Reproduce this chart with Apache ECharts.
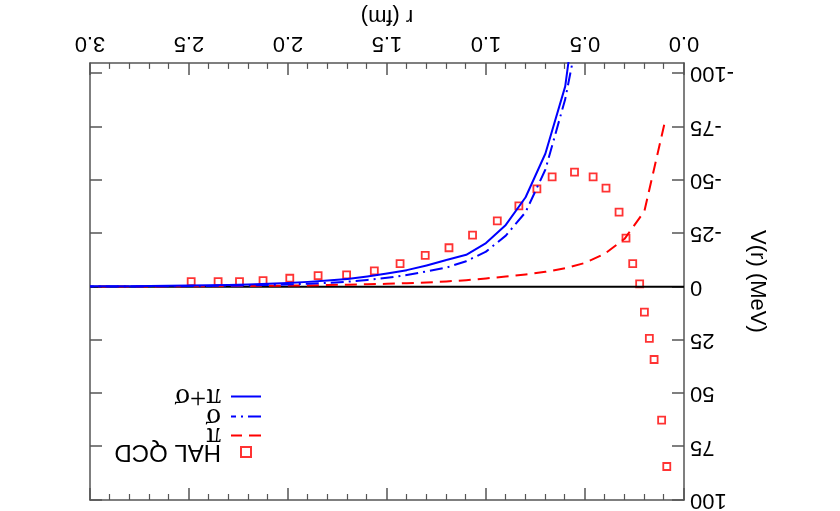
<!DOCTYPE html>
<html>
<head>
<meta charset="utf-8">
<script src="https://cdn.jsdelivr.net/npm/echarts@6/dist/echarts.min.js"></script>
<style>
  html, body { margin: 0; padding: 0; background: #fff; }
  /* the reference figure is printed upside down, so the whole chart is turned */
  #main { width: 840px; height: 511px; transform: rotate(180deg); }
</style>
</head>
<body>
<div id="main"></div>
<script>
// HAL QCD lattice points, r (fm) and V (MeV)
var halR = [0.087, 0.113, 0.151, 0.175, 0.200, 0.224, 0.259, 0.293, 0.328, 0.394, 0.459, 0.553, 0.666, 0.743,
            0.834, 0.943, 1.068, 1.187, 1.307, 1.434, 1.564, 1.704, 1.848, 1.991, 2.126, 2.245, 2.353, 2.489];
var halV = [84.3, 62.5, 34.1, 24.2, 11.9, -1.4, -10.9, -22.8, -35.0, -46.3, -51.5, -53.8, -51.5, -45.9,
            -37.9, -30.9, -24.2, -18.3, -14.7, -10.9, -7.5, -5.6, -5.2, -4.0, -2.9, -2.4, -2.4, -2.4];

// pi exchange curve
var piR = [0.1, 0.2, 0.3, 0.4, 0.5, 0.6, 0.7, 0.8, 0.9, 1.0, 1.1, 1.2, 1.3, 1.4, 1.5,
           1.6, 1.7, 1.8, 1.9, 2.0, 2.1, 2.2, 2.3, 2.4, 2.5, 2.6, 2.7, 2.8, 2.9, 3.0];
var piV = [-76, -35.5, -22.5, -15.5, -11.2, -8.7, -7.0, -5.8, -4.8, -3.9, -3.1, -2.5, -2.0, -1.7, -1.4,
           -1.2, -1.0, -0.8, -0.65, -0.55, -0.45, -0.38, -0.32, -0.27, -0.23, -0.2, -0.17, -0.14, -0.12, -0.1];

// sigma and pi+sigma curves
var sgR = [0.5, 0.6, 0.7, 0.8, 0.9, 1.0, 1.1, 1.2, 1.3, 1.4, 1.5, 1.6, 1.7,
           1.8, 1.9, 2.0, 2.1, 2.2, 2.3, 2.4, 2.5, 2.6, 2.7, 2.8, 2.9, 3.0];
var sgV = [-135, -88, -55, -35, -24, -16.5, -12, -9, -7.2, -5.5, -4.2, -3.2, -2.4,
           -1.8, -1.4, -1.1, -0.85, -0.65, -0.5, -0.4, -0.32, -0.25, -0.2, -0.15, -0.12, -0.1];
var sumV = [-163, -94, -62.5, -42, -29, -20.5, -15, -12.6, -10, -7.8, -6.2, -4.8, -3.7,
            -2.9, -2.3, -1.8, -1.4, -1.1, -0.85, -0.7, -0.55, -0.45, -0.37, -0.3, -0.25, -0.2];

var yTicks = [-100, -75, -50, -25, 0, 25, 50, 75, 100];
var legendNames = ['HAL QCD', 'π', 'σ', 'π+σ'];

function pairs(xs, ys) {
  return xs.map(function (x, i) { return [x, ys[i]]; });
}

var frame = '#555';
var sans = 'Liberation Sans';
var serif = 'Liberation Serif';

var chart = echarts.init(document.getElementById('main'));

var xBase = {
  type: 'value', min: 0, max: 3, interval: 0.5,
  axisLine: { show: true, onZero: false, lineStyle: { color: frame, width: 1.5 } },
  axisTick: { inside: true, length: 12, lineStyle: { color: frame, width: 1.5 } },
  minorTick: { show: true, splitNumber: 5, length: 6, lineStyle: { color: frame, width: 1.2 } },
  splitLine: { show: false }
};
var yBase = {
  type: 'value', min: -105, max: 100,
  axisLine: { show: true, onZero: false, lineStyle: { color: frame, width: 1.5 } },
  axisTick: { inside: true, length: 12, customValues: yTicks, lineStyle: { color: frame, width: 1.5 } },
  splitLine: { show: false }
};

// one legend per entry so the rows can be placed like the original
var legendTops = [46, 61, 80, 100];
var legends = legendNames.map(function (name, i) {
  if (i === 0) {
    return {
      left: 588, top: legendTops[i], padding: 0,
      itemWidth: 10, itemHeight: 10,
      textStyle: { color: '#000', fontFamily: sans, fontSize: 24, lineHeight: 26, padding: [0, 0, 0, 15] },
      data: [{ name: name, icon: 'rect',
               itemStyle: { color: 'transparent', borderColor: '#ff0000', borderWidth: 2 } }]
    };
  }
  return {
    left: 578, top: legendTops[i], padding: 0,
    itemWidth: 30, itemHeight: 10,
    textStyle: { color: '#000', fontFamily: serif, fontSize: 29, lineHeight: 20, padding: [0, 0, 0, 5] },
    data: [{ name: name, itemStyle: { color: 'transparent', borderWidth: 0 } }]
  };
});

var option = {
  backgroundColor: '#fff',
  animation: false,
  grid: { left: 156, right: 90, top: 10, bottom: 55 },
  xAxis: [
    Object.assign({}, xBase, {
      position: 'bottom',
      name: 'r (fm)', nameLocation: 'middle', nameGap: 30,
      nameTextStyle: { fontFamily: sans, fontSize: 22, color: '#000' },
      axisLabel: {
        margin: 9, fontFamily: sans, fontSize: 22, color: '#000',
        formatter: function (v) { return v.toFixed(1); }
      }
    }),
    Object.assign({}, xBase, { position: 'top', axisLabel: { show: false } })
  ],
  yAxis: [
    Object.assign({}, yBase, {
      position: 'left',
      name: 'V(r) (MeV)', nameLocation: 'middle', nameGap: 62,
      nameTextStyle: { fontFamily: sans, fontSize: 22, color: '#000' },
      axisLabel: { margin: 6, fontFamily: sans, fontSize: 22, color: '#000', customValues: yTicks }
    }),
    Object.assign({}, yBase, { position: 'right', axisLabel: { show: false } })
  ],
  legend: legends,
  series: [
    {
      name: 'zero', type: 'line', data: [[0, 0], [3, 0]], symbol: 'none', silent: true,
      lineStyle: { color: '#000', width: 2 }
    },
    {
      name: 'π', type: 'line', data: pairs(piR, piV), symbol: 'none',
      lineStyle: { color: '#ff0000', width: 2, type: [12, 7] }, itemStyle: { color: '#ff0000' }
    },
    {
      name: 'σ', type: 'line', data: pairs(sgR, sgV), symbol: 'none',
      lineStyle: { color: '#0000ff', width: 2, type: [13, 5, 2, 5] }, itemStyle: { color: '#0000ff' }
    },
    {
      name: 'π+σ', type: 'line', data: pairs(sgR, sumV), symbol: 'none',
      lineStyle: { color: '#0000ff', width: 2 }, itemStyle: { color: '#0000ff' }
    },
    {
      name: 'HAL QCD', type: 'scatter', data: pairs(halR, halV),
      symbol: 'rect', symbolSize: 7,
      itemStyle: { color: 'transparent', borderColor: '#ff0000', borderWidth: 1.8 }
    }
  ]
};

chart.setOption(option);
</script>
</body>
</html>
